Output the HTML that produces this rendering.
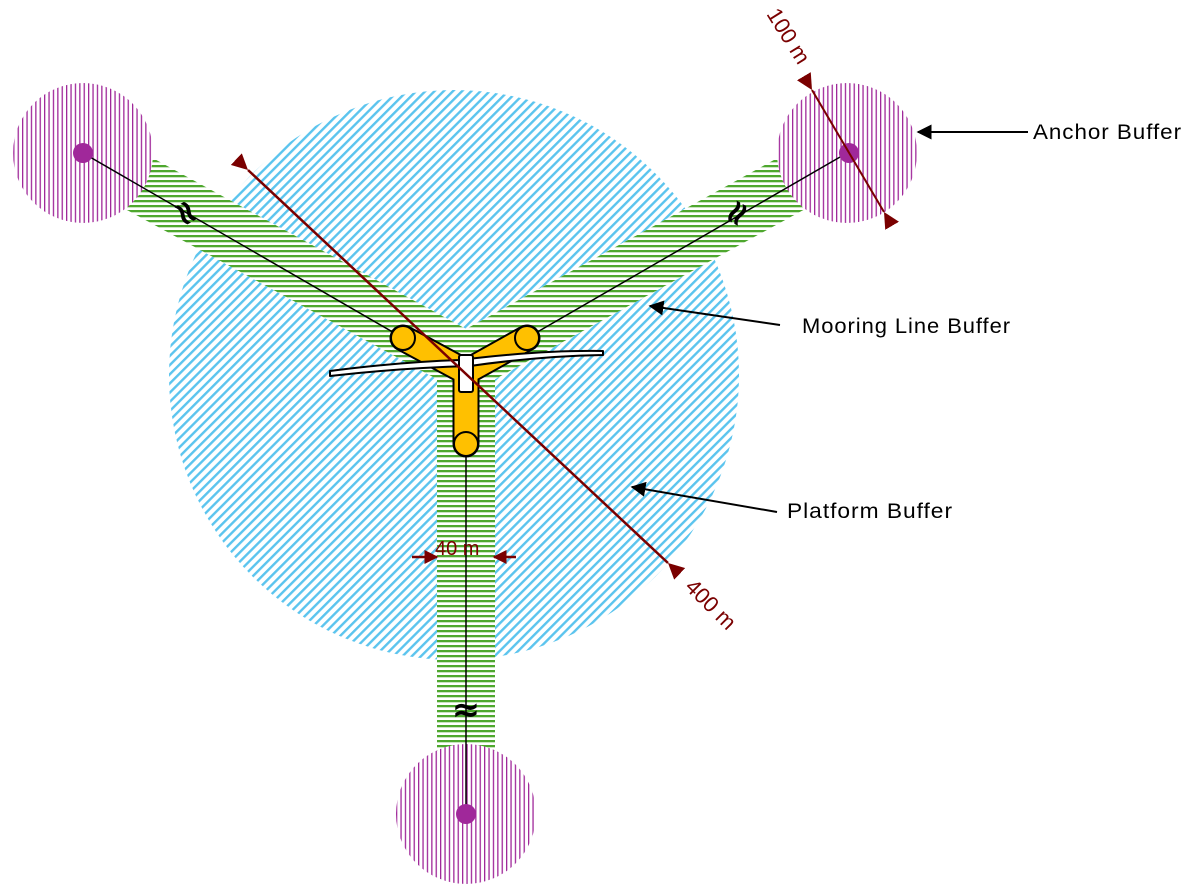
<!DOCTYPE html>
<html><head><meta charset="utf-8"><style>
html,body{margin:0;padding:0;background:#fff;}
svg{display:block;font-family:"Liberation Sans",sans-serif;}
</style></head><body>
<svg width="1195" height="896" viewBox="0 0 1195 896" xmlns="http://www.w3.org/2000/svg">
<defs>
<pattern id="blue" width="6.5" height="6.5" patternUnits="userSpaceOnUse" patternTransform="rotate(45)">
<rect width="6.5" height="6.5" fill="#fff"/><rect width="2.4" height="6.5" fill="#5bc4ee"/></pattern>
<pattern id="green" width="6" height="5" patternUnits="userSpaceOnUse">
<rect width="6" height="5" fill="#fff"/><rect width="6" height="2.3" fill="#4ea72e"/></pattern>
<pattern id="purple" width="4.4" height="6" patternUnits="userSpaceOnUse">
<rect width="4.4" height="6" fill="#fff"/><rect width="1.3" height="6" fill="#a0289a"/></pattern>
<marker id="as" viewBox="0 0 10 10" refX="10" refY="5" markerWidth="16" markerHeight="16" orient="auto" markerUnits="userSpaceOnUse">
<path d="M0,0L10,5L0,10z" fill="#7a0000"/></marker>
<marker id="ae" viewBox="0 0 10 10" refX="0" refY="5" markerWidth="16" markerHeight="16" orient="auto" markerUnits="userSpaceOnUse">
<path d="M10,0L0,5L10,10z" fill="#7a0000"/></marker>
<marker id="ar" viewBox="0 0 10 10" refX="9" refY="5" markerWidth="14" markerHeight="14" orient="auto" markerUnits="userSpaceOnUse">
<path d="M0,0L10,5L0,10z" fill="#7a0000"/></marker>
<marker id="bk" viewBox="0 0 10 10" refX="9" refY="5" markerWidth="15" markerHeight="15" orient="auto" markerUnits="userSpaceOnUse">
<path d="M0,0L10,5L0,10z" fill="#000"/></marker>
</defs>
<circle cx="454" cy="375" r="285" fill="url(#blue)"/>
<g stroke-width="58" stroke-linecap="butt">
<line x1="466" y1="362" x2="83" y2="153" stroke="#fff"/>
<line x1="466" y1="362" x2="847" y2="153" stroke="#fff"/>
<line x1="466" y1="345" x2="466" y2="760" stroke="#fff"/>
<line x1="466" y1="362" x2="83" y2="153" stroke="url(#green)"/>
<line x1="466" y1="362" x2="847" y2="153" stroke="url(#green)"/>
<line x1="466" y1="345" x2="466" y2="760" stroke="url(#green)"/>
</g>
<circle cx="83" cy="153" r="70" fill="url(#purple)"/>
<circle cx="847" cy="153" r="70" fill="url(#purple)"/>
<circle cx="466" cy="814" r="70" fill="url(#purple)"/>
<g stroke="#000" stroke-width="1.5">
<line x1="83" y1="153" x2="403" y2="338"/>
<line x1="847" y1="153" x2="527" y2="338"/>
<line x1="466" y1="814" x2="466" y2="444"/>
</g>
<circle cx="83" cy="153" r="10" fill="#a0289a"/>
<circle cx="849" cy="153" r="10" fill="#a0289a"/>
<circle cx="466" cy="814" r="10" fill="#a0289a"/>
<g font-size="34" fill="#000" text-anchor="middle" font-family="DejaVu Sans, sans-serif" font-weight="bold">
<text x="0" y="0" transform="translate(186,213) rotate(60)" dy="11">≈</text>
<text x="0" y="0" transform="translate(737,213) rotate(-60)" dy="11">≈</text>
<text x="0" y="0" transform="translate(466,710)" dy="11">≈</text>
</g>
<!-- turbine -->
<g stroke-linecap="round">
<line x1="403" y1="338" x2="466" y2="372" stroke="#000" stroke-width="27"/>
<line x1="527" y1="338" x2="466" y2="372" stroke="#000" stroke-width="27"/>
<line x1="466" y1="444" x2="466" y2="372" stroke="#000" stroke-width="27"/>
<line x1="403" y1="338" x2="466" y2="372" stroke="#ffc000" stroke-width="23"/>
<line x1="527" y1="338" x2="466" y2="372" stroke="#ffc000" stroke-width="23"/>
<line x1="466" y1="444" x2="466" y2="372" stroke="#ffc000" stroke-width="23"/>
</g>
<g stroke="#000" stroke-width="2" stroke-linejoin="round">
<circle cx="403" cy="338" r="12" fill="#ffc000"/>
<circle cx="527" cy="338" r="12" fill="#ffc000"/>
<circle cx="466" cy="444" r="12" fill="#ffc000"/>
<path d="M330,371 Q400,362 460,360 Q540,350 603,351 L603,355 Q540,356 470,366 Q400,368 330,376 Z" fill="#fff"/>
<rect x="459" y="355" width="14" height="37" rx="2" fill="#fff"/>
</g>
<!-- dimension lines -->
<g stroke="#7a0000" stroke-width="2.5" fill="none">
<line x1="248" y1="170" x2="668" y2="563" marker-start="url(#as)" marker-end="url(#ae)"/>
<line x1="812" y1="90" x2="884" y2="212" marker-start="url(#as)" marker-end="url(#ae)" stroke-width="2"/>
<line x1="412" y1="557" x2="437" y2="557" marker-end="url(#ar)"/>
<line x1="516" y1="557" x2="494" y2="557" marker-end="url(#ar)"/>
</g>
<g fill="#7a0000" font-size="22">
<text x="0" y="0" transform="translate(684,588) rotate(45)">400 m</text>
<text x="0" y="0" transform="translate(766,14) rotate(58)">100 m</text>
<text x="435" y="555" font-size="20">40 m</text>
</g>
<g stroke="#000" stroke-width="2">
<line x1="1028" y1="132" x2="918" y2="132" marker-end="url(#bk)"/>
<line x1="780" y1="325" x2="650" y2="306" marker-end="url(#bk)"/>
<line x1="777" y1="512" x2="632" y2="487" marker-end="url(#bk)"/>
</g>
<g font-size="21" fill="#000" letter-spacing="0.9">
<text x="1033" y="139" textLength="149" lengthAdjust="spacingAndGlyphs">Anchor Buffer</text>
<text x="802" y="333" textLength="209" lengthAdjust="spacingAndGlyphs">Mooring Line Buffer</text>
<text x="787" y="518" textLength="166" lengthAdjust="spacingAndGlyphs">Platform Buffer</text>
</g>
</svg>
</body></html>
